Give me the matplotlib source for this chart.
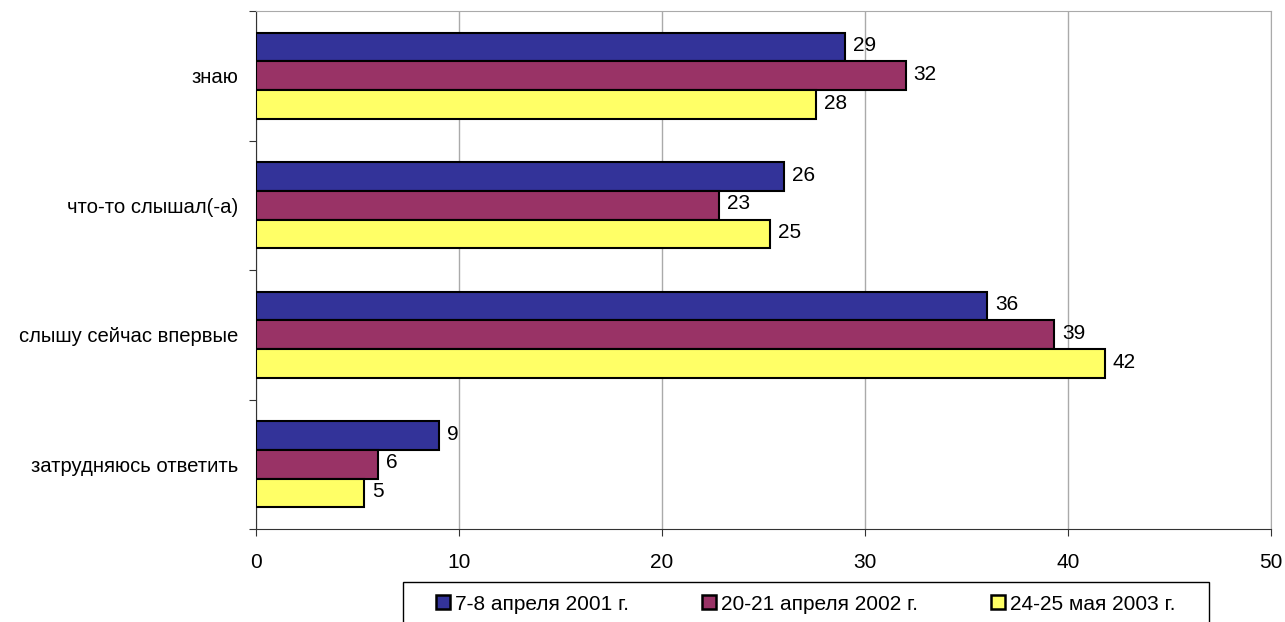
import numpy as np
import matplotlib.pyplot as plt
from matplotlib.patches import Patch, Rectangle

plt.rcParams['font.family'] = ['Liberation Sans', 'DejaVu Sans']

# answers (top to bottom) and survey waves
categories = ["знаю", "что-то слышал(-а)", "слышу сейчас впервые", "затрудняюсь ответить"]
series_names = ["7-8 апреля 2001 г.", "20-21 апреля 2002 г.", "24-25 мая 2003 г."]
wave_2001 = [29.0, 26.0, 36.0, 9.0]
wave_2002 = [32.0, 22.8, 39.3, 6.0]
wave_2003 = [27.6, 25.3, 41.8, 5.3]
colors = ["#333399", "#993366", "#FFFF66"]

fs = 15

fig = plt.figure(figsize=(12.85, 6.22), dpi=100)
ax = fig.add_axes([256/1285, 1-529/622, (1271-256)/1285, (529-11)/622])

y = np.arange(len(categories)) + 0.5
h = 0.222
for k, (vals, col) in enumerate(zip([wave_2001, wave_2002, wave_2003], colors)):
    pos = y + (k - 1) * h
    ax.barh(pos, vals, height=h, color=col, edgecolor="black", linewidth=1.5, zorder=3)
    for p, v in zip(pos, vals):
        ax.text(v + 0.4, p - 0.01, "%.0f" % v, va="center", ha="left", fontsize=fs, zorder=4)

ax.set_xlim(0, 50)
ax.set_ylim(len(categories), 0)
ax.set_xticks(np.arange(0, 51, 10))
ax.set_yticks(np.arange(0, len(categories) + 1))
ax.set_yticklabels([])
ax.set_yticks(y, minor=True)
ax.set_yticklabels(categories, minor=True)
ax.tick_params(axis="y", which="minor", length=0, pad=13, labelsize=14.6)
ax.tick_params(axis="y", which="major", length=5, color="#333333")
ax.tick_params(axis="x", length=5, pad=12, labelsize=fs, color="#333333")
ax.xaxis.grid(True, color="#aaaaaa", linewidth=1, zorder=0)
ax.set_axisbelow(True)
for s in ["top", "right"]:
    ax.spines[s].set_color("#aaaaaa")
for s in ["left", "bottom"]:
    ax.spines[s].set_color("#333333")

# legend entries without frame; the frame is a separate rectangle cut by the figure edge
handles = [Patch(facecolor=c, edgecolor="black", linewidth=1.8) for c in colors]
leg = fig.legend(handles, series_names, loc="center left", ncol=3,
                 bbox_to_anchor=(436/1285, 1-604/622), fontsize=fs,
                 frameon=False, handlelength=0.67, handleheight=0.67,
                 handletextpad=0.24, columnspacing=3.5, borderpad=0, borderaxespad=0)
fig.add_artist(Rectangle((403/1285, -0.05), 806/1285, 0.05 + 1-582/622,
                         transform=fig.transFigure, fill=False,
                         edgecolor="black", linewidth=1))

fig.savefig("out.png", dpi=100)
